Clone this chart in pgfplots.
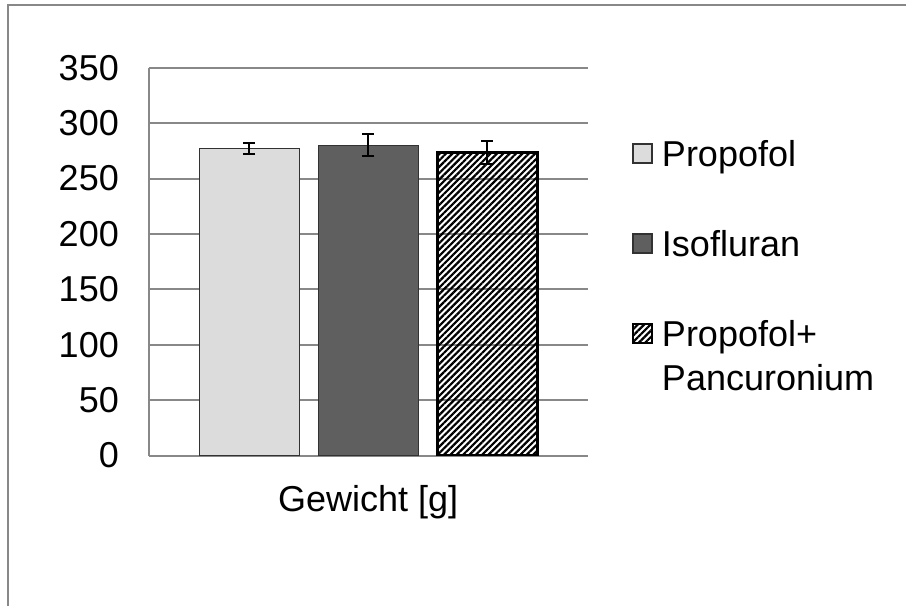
\documentclass[border=0pt]{standalone}
\usepackage{fontspec}
\setmainfont{Liberation Sans}
\usepackage{pgfplots}
\pgfplotsset{compat=1.18}
\usetikzlibrary{patterns.meta}
\definecolor{gridgray}{RGB}{136,136,136}
\definecolor{lightbar}{RGB}{220,220,220}
\definecolor{darkbar}{RGB}{95,95,95}
\definecolor{darkedge}{RGB}{50,50,50}
\begin{document}
\begin{tikzpicture}
\path[use as bounding box] (0,0) rectangle (906pt,606pt);
\draw[gridgray, line width=2pt] (8.3pt,0pt) -- (8.3pt,600.5pt) -- (906pt,600.5pt);
\begin{axis}[
  at={(149pt,150.5pt)}, anchor=south west,
  scale only axis,
  width=438.5pt, height=387.8pt,
  xmin=-1, xmax=1,
  ymin=0, ymax=350,
  ytick={0,50,...,350},
  xtick={0},
  xticklabels={Gewicht [g]},
  ybar=19pt, bar width=100pt,
  axis x line*=bottom,
  axis y line*=left,
  axis line style={gridgray, line width=2pt},
  ymajorgrids,
  grid style={gridgray, line width=2pt},
  major tick length=0pt,
  tick style={draw=none},
  font=\fontsize{36}{44}\selectfont,
  /pgf/number format/assume math mode=true,
  yticklabel style={inner sep=0pt, xshift=-30pt},
  xticklabel style={inner sep=0pt, yshift=-30pt},
  legend style={
    at={(1.1026,0.8144)}, anchor=north west,
    draw=none, fill=none, inner sep=0pt, outer sep=0pt,
    row sep=55pt, column sep=9pt,
    font=\fontsize{36}{44}\selectfont,
    nodes={inner sep=0pt, text height=27pt, text depth=8pt, anchor=base west},
  },
  legend cell align=left,
  legend image code/.code={\draw[#1, line width=1.5pt] (0pt,3.5pt) rectangle (19pt,22.5pt);},
  error bars/error bar style={black, line width=2pt},
  error bars/error mark options={rotate=90, mark size=6pt, line width=2pt, black},
]
\addplot[fill=lightbar, draw=darkedge, line width=1.2pt,
  error bars/.cd, y dir=both, y explicit]
  coordinates {(0,277) +- (0,5)};
\addlegendentry{Propofol}
\addplot[fill=darkbar, draw=darkedge, line width=1.2pt,
  error bars/.cd, y dir=both, y explicit]
  coordinates {(0,280) +- (0,10)};
\addlegendentry{Isofluran}
\addplot[draw=black, line width=3pt,
  pattern={Lines[angle=45, distance=4.5pt, line width=2.2pt]}, pattern color=black,
  error bars/.cd, y dir=both, y explicit]
  coordinates {(0,273.5) +- (0,10)};
\addlegendentry{\vtop{\hbox{Propofol+}\hbox{Pancuronium}}}
\end{axis}
\end{tikzpicture}
\end{document}
